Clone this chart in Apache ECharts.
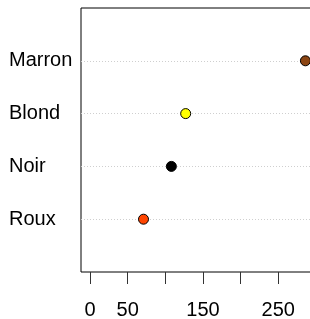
<!doctype html>
<html lang="fr">
<head>
<meta charset="UTF-8">
<title>Dotchart</title>
<script src="https://cdn.jsdelivr.net/npm/echarts@6/dist/echarts.min.js"></script>
<style>
  html, body { margin: 0; padding: 0; background: #fff; }
  #main { width: 310px; height: 319px; }
</style>
</head>
<body>
<div id="main"></div>
<script>
// bottom to top, as in the dotchart
var categories = ['Roux', 'Noir', 'Blond', 'Marron'];
var counts = [71, 108, 127, 286];
var dotColors = ['#FF4500', '#000000', '#FFFF00', '#8B4513'];
var tickValues = [0, 50, 100, 150, 200, 250];
var tickLabels = [0, 50, 150, 250];

var chart = echarts.init(document.getElementById('main'));

var points = counts.map(function (v, i) {
    return { value: [v, i + 1], itemStyle: { color: dotColors[i] } };
});

chart.setOption({
    animation: false,
    backgroundColor: '#fff',
    textStyle: { fontFamily: 'Liberation Sans, Arial, sans-serif' },
    grid: {
        left: 81, top: 8, bottom: 47, width: 244,
        outerBoundsMode: 'none', containLabel: false,
        show: true, borderColor: '#000', borderWidth: 1, backgroundColor: 'transparent'
    },
    xAxis: {
        type: 'value',
        min: -12, max: 312,
        axisLine: { show: false },
        axisTick: {
            show: true, length: 12, customValues: tickValues,
            lineStyle: { color: '#333' }
        },
        axisLabel: {
            customValues: tickLabels,
            margin: 28, fontSize: 20, color: '#000'
        },
        splitLine: { show: false }
    },
    yAxis: {
        type: 'value',
        min: 0, max: 5, interval: 1,
        axisLine: { show: false },
        axisTick: { show: false },
        axisLabel: {
            align: 'left', margin: 72, fontSize: 20, color: '#000',
            formatter: function (v) { return categories[v - 1] || ''; }
        },
        splitLine: {
            show: true, showMinLine: false, showMaxLine: false,
            lineStyle: { color: '#cfcfcf', type: [1, 2], width: 1 }
        }
    },
    series: [{
        type: 'scatter',
        symbolSize: 10,
        itemStyle: { borderColor: '#000', borderWidth: 1, opacity: 1 },
        data: points
    }]
});
</script>
</body>
</html>
